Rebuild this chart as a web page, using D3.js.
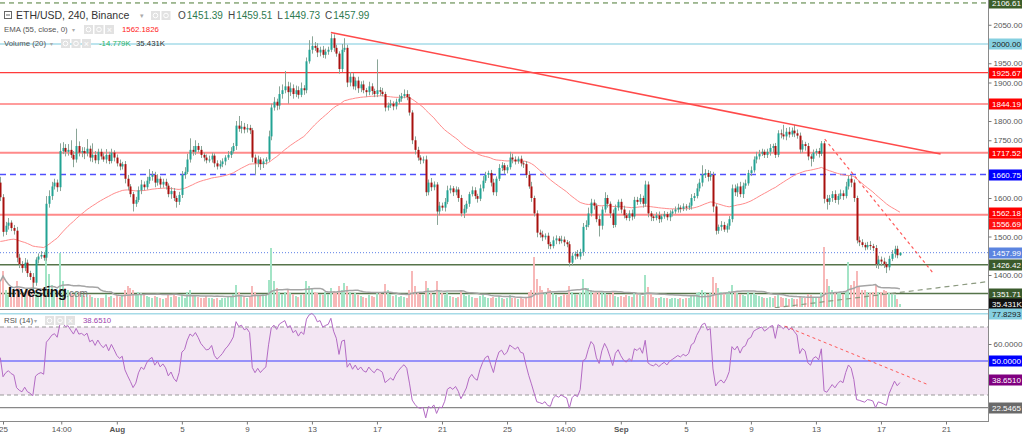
<!DOCTYPE html>
<meta charset="utf-8">
<style>
body { margin: 0; background: #fff; }
svg { display: block; font-family: "Liberation Sans", Arial, sans-serif; }
</style>
<body>
<script src="https://d3js.org/d3.v7.min.js"></script>
<script>

// ETH/USD 4h candles, first candle Jul 24 2022 20:00 UTC, open = previous close
var firstCandle = Date.UTC(2022, 6, 24, 20);
var firstOpen = 1640;

var closes = [
  1602,
  1512, 1528, 1536, 1522, 1515, 1445,
  1428, 1418, 1432, 1405, 1395, 1380,
  1440, 1448, 1452, 1445, 1585, 1605,
  1630, 1640, 1628, 1722, 1730, 1720,
  1725, 1712, 1700, 1735, 1718, 1722,
  1716, 1728, 1705, 1712, 1698, 1720,
  1708, 1700, 1712, 1696, 1718, 1705,
  1690, 1682, 1688, 1650, 1630, 1610,
  1585, 1595, 1620, 1635, 1628, 1645,
  1655, 1660, 1640, 1650, 1635, 1642,
  1632, 1610, 1618, 1600, 1590, 1608,
  1660, 1668, 1700, 1725, 1720, 1735,
  1725, 1712, 1705, 1698, 1700, 1710,
  1690, 1682, 1688, 1695, 1705, 1712,
  1722, 1735, 1788, 1780, 1785, 1778,
  1782, 1776, 1705, 1690, 1700, 1688,
  1695, 1700, 1760, 1835, 1850, 1840,
  1870, 1880, 1890, 1875, 1885, 1870,
  1880, 1868, 1885, 1880, 1955, 1985,
  1995, 1990, 1978, 1985, 1972, 1980,
  1985, 2015, 1990, 1975, 1935, 1985,
  1990, 1900, 1915, 1890, 1905, 1885,
  1895, 1880, 1875, 1890, 1878, 1870,
  1880, 1876, 1870, 1835, 1840, 1845,
  1838, 1850, 1858, 1865, 1870, 1862,
  1822, 1750, 1725, 1705, 1698, 1700,
  1615, 1640, 1628, 1635, 1565, 1580,
  1575, 1590, 1620, 1625, 1615, 1622,
  1600, 1560, 1572, 1585, 1610, 1620,
  1605, 1598, 1625, 1645, 1660, 1665,
  1640, 1615, 1650, 1678, 1685, 1672,
  1680, 1705, 1700, 1695, 1702, 1690,
  1688, 1660, 1630, 1600, 1560, 1510,
  1505, 1498, 1502, 1480, 1475, 1490,
  1495, 1488, 1492, 1485, 1480, 1432,
  1450, 1455, 1448, 1460, 1525, 1530,
  1560, 1588, 1580, 1545, 1528, 1570,
  1600, 1585, 1560, 1530, 1575, 1590,
  1570, 1555, 1548, 1560, 1552, 1595,
  1590, 1600, 1585, 1635, 1560, 1552,
  1548, 1555, 1545, 1552, 1558, 1550,
  1560, 1565, 1570, 1575, 1572, 1578,
  1575, 1580, 1600, 1605, 1625, 1640,
  1660, 1665, 1655, 1660, 1578, 1515,
  1525, 1530, 1518, 1528, 1545, 1625,
  1615, 1630, 1610, 1632, 1638, 1665,
  1672, 1700, 1708, 1715, 1720, 1712,
  1720, 1730, 1735, 1712, 1768, 1765,
  1760, 1772, 1765, 1775, 1768, 1762,
  1726, 1740, 1735, 1708, 1702, 1718,
  1722, 1715, 1742, 1598, 1590, 1600,
  1610, 1595, 1605, 1612, 1605, 1630,
  1650, 1640, 1600, 1490, 1485, 1478,
  1472, 1478, 1475, 1470, 1428, 1440,
  1435, 1428, 1420, 1442, 1455, 1468,
  1451.39, 1457.99
];

// wick length above / below the body, in price units
var wickUp = [
  15,
  8, 10, 12, 6, 8, 10,
  10, 8, 12, 8, 6, 10,
  6, 8, 10, 8, 20, 15,
  12, 10, 8, 20, 15, 10,
  15, 25, 10, 45, 12, 10,
  10, 25, 8, 30, 10, 8,
  8, 10, 15, 8, 10, 6,
  8, 10, 6, 8, 10, 6,
  6, 8, 10, 12, 8, 10,
  20, 10, 8, 12, 6, 8,
  8, 6, 10, 8, 6, 8,
  10, 12, 15, 30, 10, 15,
  8, 10, 6, 8, 10, 8,
  6, 8, 10, 8, 6, 10,
  10, 8, 12, 25, 15, 10,
  10, 8, 6, 8, 10, 6,
  8, 6, 15, 10, 12, 8,
  20, 15, 40, 12, 15, 10,
  12, 10, 15, 8, 10, 25,
  25, 10, 12, 8, 10, 8,
  8, 12, 10, 8, 6, 15,
  25, 8, 12, 10, 8, 10,
  8, 10, 6, 12, 8, 6,
  80, 8, 10, 6, 8, 10,
  6, 8, 10, 8, 12, 10,
  8, 6, 10, 8, 6, 8,
  10, 8, 12, 8, 6, 10,
  8, 10, 12, 8, 6, 8,
  6, 8, 10, 8, 6, 10,
  8, 6, 10, 12, 8, 6,
  8, 10, 6, 10, 8, 6,
  6, 15, 10, 8, 6, 8,
  6, 8, 10, 12, 6, 8,
  8, 10, 6, 8, 6, 10,
  8, 6, 10, 8, 6, 8,
  8, 6, 10, 8, 10, 12,
  15, 10, 8, 6, 10, 8,
  15, 8, 6, 10, 8, 6,
  8, 10, 6, 8, 10, 8,
  8, 10, 6, 10, 8, 6,
  6, 8, 10, 6, 8, 6,
  8, 6, 8, 10, 6, 8,
  6, 8, 10, 8, 12, 10,
  25, 10, 8, 10, 8, 6,
  6, 10, 8, 6, 8, 10,
  10, 8, 12, 8, 10, 8,
  10, 8, 12, 10, 8, 6,
  8, 10, 6, 8, 8, 10,
  25, 10, 12, 8, 15, 10,
  8, 10, 6, 8, 6, 8,
  6, 8, 6, 6, 10, 8,
  8, 10, 6, 10, 8, 12,
  8, 10, 8, 6, 10, 8,
  6, 8, 10, 6, 8, 10,
  8, 10, 6, 8, 10, 8,
  8, 1.52
];

var wickDn = [
  10,
  12, 8, 10, 8, 10, 12,
  10, 12, 8, 10, 8, 19,
  8, 10, 6, 8, 8, 10,
  10, 8, 12, 10, 8, 12,
  10, 8, 20, 8, 10, 12,
  15, 8, 10, 12, 8, 10,
  8, 6, 10, 8, 6, 10,
  8, 10, 8, 12, 10, 8,
  20, 8, 6, 10, 8, 6,
  8, 10, 12, 8, 10, 8,
  10, 8, 12, 8, 15, 8,
  8, 10, 6, 8, 10, 8,
  6, 8, 10, 8, 6, 8,
  10, 8, 6, 8, 10, 6,
  8, 6, 10, 8, 12, 10,
  8, 10, 12, 30, 10, 15,
  10, 8, 6, 10, 8, 12,
  10, 12, 8, 30, 10, 12,
  8, 10, 6, 12, 8, 6,
  10, 8, 12, 10, 8, 10,
  8, 6, 10, 8, 12, 8,
  6, 12, 10, 8, 10, 12,
  10, 8, 12, 8, 10, 8,
  8, 10, 6, 10, 8, 6,
  10, 8, 6, 8, 6, 8,
  8, 10, 12, 8, 10, 8,
  10, 8, 10, 8, 35, 10,
  8, 10, 6, 8, 10, 8,
  10, 8, 12, 10, 8, 6,
  8, 10, 6, 8, 6, 8,
  10, 8, 10, 6, 8, 10,
  8, 6, 10, 8, 6, 8,
  10, 8, 6, 10, 8, 12,
  8, 10, 6, 12, 8, 6,
  10, 8, 6, 10, 8, 10,
  8, 10, 6, 8, 10, 8,
  6, 8, 10, 8, 28, 10,
  8, 10, 12, 8, 6, 8,
  10, 8, 6, 8, 10, 6,
  8, 6, 10, 8, 10, 12,
  8, 6, 10, 8, 6, 8,
  10, 8, 6, 8, 10, 6,
  8, 6, 10, 8, 6, 8,
  10, 8, 12, 10, 15, 10,
  8, 10, 6, 8, 10, 8,
  10, 12, 8, 10, 8, 6,
  8, 6, 10, 8, 6, 8,
  8, 10, 12, 8, 6, 10,
  8, 10, 8, 6, 10, 8,
  10, 8, 12, 10, 20, 8,
  8, 10, 6, 12, 20, 8,
  10, 8, 12, 8, 10, 6,
  8, 12, 10, 8, 10, 6,
  8, 6, 10, 8, 10, 12,
  12, 10, 15, 8, 6, 10,
  8, 1.66
];

// volume, thousands
var volumes = [
  300,
  420, 200, 140, 120, 170, 300,
  220, 180, 160, 210, 190, 280,
  170, 150, 140, 160, 660, 380,
  260, 200, 180, 630, 300, 220,
  200, 160, 150, 180, 170, 140,
  130, 120, 140, 120, 110, 100,
  110, 100, 150, 120, 130, 110,
  140, 120, 130, 200, 250, 220,
  200, 150, 180, 160, 140, 130,
  120, 110, 130, 120, 100, 90,
  110, 140, 120, 150, 130, 120,
  150, 110, 180, 200, 140, 130,
  120, 110, 100, 130, 110, 100,
  90, 100, 80, 110, 100, 120,
  130, 150, 260, 180, 140, 120,
  110, 120, 240, 180, 140, 130,
  150, 140, 320, 690, 300, 220,
  180, 150, 170, 200, 160, 150,
  130, 120, 140, 150, 300, 250,
  220, 180, 160, 150, 140, 170,
  150, 220, 190, 170, 240, 200,
  280, 240, 170, 150, 160, 140,
  130, 120, 110, 140, 130, 120,
  180, 160, 150, 270, 200, 150,
  130, 140, 120, 130, 120, 110,
  200, 420, 250, 160, 150, 140,
  300, 220, 160, 150, 300, 200,
  160, 140, 170, 130, 120, 110,
  120, 200, 150, 130, 140, 120,
  110, 100, 130, 150, 120, 110,
  100, 120, 110, 130, 100, 90,
  100, 140, 110, 100, 90, 100,
  90, 120, 170, 200, 580, 330,
  250, 200, 180, 220, 200, 160,
  140, 120, 130, 150, 140, 250,
  180, 150, 140, 160, 330, 220,
  220, 200, 160, 190, 170, 180,
  160, 140, 150, 170, 130, 120,
  130, 120, 140, 130, 120, 170,
  150, 140, 130, 370, 230, 150,
  120, 110, 100, 120, 110, 100,
  90, 100, 110, 90, 100, 95,
  100, 110, 140, 130, 160, 180,
  200, 170, 150, 160, 350, 280,
  220, 180, 160, 170, 190, 260,
  180, 160, 150, 140, 130, 170,
  150, 160, 140, 130, 120, 110,
  110, 120, 100, 130, 150, 120,
  110, 100, 90, 100, 95, 90,
  120, 110, 100, 150, 140, 110,
  100, 120, 160, 700, 330, 250,
  200, 180, 160, 170, 150, 180,
  520, 260, 300, 420, 240, 200,
  200, 180, 160, 170, 260, 180,
  170, 200, 190, 160, 150, 140,
  90, 35.431
];

var emaStart = 1483;           // EMA(55) at the left edge of the chart
var rsiGainStart = 14, rsiLossStart = 10;

var tickTimes = ["2022-07-25T00:00Z", "2022-07-28T14:00Z", "2022-08-01T00:00Z", "2022-08-05T00:00Z",
  "2022-08-09T00:00Z", "2022-08-13T00:00Z", "2022-08-17T00:00Z", "2022-08-21T00:00Z",
  "2022-08-25T00:00Z", "2022-08-28T14:00Z", "2022-09-01T00:00Z", "2022-09-05T00:00Z",
  "2022-09-09T00:00Z", "2022-09-13T00:00Z", "2022-09-17T00:00Z", "2022-09-21T00:00Z"];
var tickLabels = ["25", "14:00", "Aug", "5", "9", "13", "17", "21", "25", "14:00", "Sep", "5", "9", "13", "17", "21"];

// horizontal price levels drawn on the chart
var levelPrices = [2106.61, 2000.00, 1925.67, 1844.19, 1717.52, 1660.75, 1556.69, 1457.99, 1426.42, 1351.71];
var levelKinds  = ["topDash", "cyan", "red", "red", "pink", "blueDash", "pink", "last", "green", "green"];

// price-axis labels (value, text)
var priceTags = [2106.61, 2000.00, 1925.67, 1844.19, 1717.52, 1660.75, 1562.18, 1556.69, 1457.99, 1426.42, 1351.71];
var priceTagText = ["2106.61", "2000.00", "1925.67", "1844.19", "1717.52", "1660.75", "1562.18", "1556.69", "1457.99", "1426.42", "1351.71"];
var priceTagKinds = ["topDash", "cyan", "red", "red", "red", "blueDash", "red", "red2", "last", "green", "green"];

var rsiLevels = [77.8293, 22.5465];
var rsiTags = [77.8293, 50, 38.651, 22.5465];
var rsiTagText = ["77.8293", "50.0000", "38.6510", "22.5465"];
var rsiTagKinds = ["cyan", "blue", "purple", "gray"];

// legend values
var ohlcLabels = ["O", "H", "L", "C"];
var ohlcText = ["1451.39", "1459.51", "1449.73", "1457.99"];

// trend lines [time, value]
var trendMain = [["2022-08-14T04:00Z", 2030], ["2022-09-20T16:00Z", 1714]];
var trendDown = [["2022-09-13T13:00Z", 1753], ["2022-09-20T05:00Z", 1405]];
var trendRsi  = [["2022-09-11T02:00Z", 70.5], ["2022-09-19T22:00Z", 36]];
var trendGray = [["2022-09-09T22:00Z", 1312], ["2022-09-24T14:00Z", 1388]];

var styles = {
  topDash:  {line: "#4c7a34", dash: "5,4", w: 1, bg: "#3d5e2a", fg: "#fff"},
  cyan:     {line: "#a6dbe8", dash: null, w: 1.5, bg: "#85cfe0", fg: "#1a1a1a"},
  red:      {line: "#ff3b3b", dash: null, w: 1.2, bg: "#ff0000", fg: "#fff"},
  red2:     {line: "#ff3b3b", dash: null, w: 1.2, bg: "#ff1010", fg: "#fff"},
  pink:     {line: "#ff8a8a", dash: null, w: 2, bg: "#ff0000", fg: "#fff"},
  blueDash: {line: "#5050ff", dash: "6,4", w: 1.5, bg: "#0000ff", fg: "#fff"},
  last:     {line: "#5c7fe6", dash: "1,2", w: 1, bg: "#5b84e0", fg: "#fff"},
  green:    {line: "#56744a", dash: null, w: 1.5, bg: "#3a5a2c", fg: "#fff"},
  blue:     {bg: "#0000ff", fg: "#fff"},
  purple:   {bg: "#800080", fg: "#fff"},
  gray:     {bg: "#6a6a6a", fg: "#fff"}
};

var W = 1024, H = 434, axisX = 988;
var tagFont = 8;

var svg = d3.select("body").append("svg")
    .attr("width", W)
    .attr("height", H);

var x = d3.scaleUtc()
    .domain([new Date("2022-07-25T00:00Z"), new Date("2022-09-21T00:00Z")])
    .range([3, 946]);
var y = d3.scaleLinear().domain([1600, 2000]).range([198, 44]);
var yVol = d3.scaleLinear().domain([0, 700]).range([307, 247]);
var yRsi = d3.scaleLinear().domain([30, 70]).range([395, 327]);

// build candles
var candles = closes.map(function(c, i) {
  var o = i ? closes[i - 1] : firstOpen;
  return {
    t: new Date(firstCandle + i * 4 * 3600 * 1000),
    o: o, c: c,
    h: Math.max(o, c) + wickUp[i],
    l: Math.min(o, c) - wickDn[i],
    v: volumes[i]
  };
});

// EMA 55
var k = 2 / 56, e = emaStart;
candles.forEach(function(d) { e = e + k * (d.c - e); d.ema = e; });

// RSI 14 (Wilder)
var ag = rsiGainStart, al = rsiLossStart;
candles.forEach(function(d) {
  var ch = d.c - d.o;
  ag = (ag * 13 + Math.max(ch, 0)) / 14;
  al = (al * 13 + Math.max(-ch, 0)) / 14;
  d.rsi = 100 - 100 / (1 + ag / al);
});

// volume SMA 20
candles.forEach(function(d, i) {
  var s = candles.slice(Math.max(0, i - 19), i + 1);
  d.vma = d3.mean(s, function(q) { return q.v; });
});

svg.append("defs").append("clipPath").attr("id", "mainClip")
  .append("rect").attr("x", 0).attr("y", 0).attr("width", axisX).attr("height", 308);
svg.select("defs").append("clipPath").attr("id", "rsiClip")
  .append("rect").attr("x", 0).attr("y", 310).attr("width", axisX).attr("height", 111);

var main = svg.append("g").attr("clip-path", "url(#mainClip)");
var rsiG = svg.append("g").attr("clip-path", "url(#rsiClip)");

// ---- RSI pane
rsiG.append("rect")
  .attr("x", 0).attr("width", axisX)
  .attr("y", yRsi(70)).attr("height", yRsi(30) - yRsi(70))
  .attr("fill", "#f3e6f3");
[70, 30].forEach(function(v) {
  rsiG.append("line").attr("x1", 0).attr("x2", axisX)
    .attr("y1", yRsi(v)).attr("y2", yRsi(v))
    .attr("stroke", "#999").attr("stroke-dasharray", "4,3");
});
rsiG.append("line").attr("x1", 0).attr("x2", axisX)
  .attr("y1", yRsi(50)).attr("y2", yRsi(50))
  .attr("stroke", "#3c3cff").attr("stroke-width", 1.2);
rsiG.append("line").attr("x1", 0).attr("x2", axisX)
  .attr("y1", yRsi(rsiLevels[0])).attr("y2", yRsi(rsiLevels[0]))
  .attr("stroke", "#a6dbe8").attr("stroke-width", 1.5);
rsiG.append("line").attr("x1", 0).attr("x2", axisX)
  .attr("y1", yRsi(rsiLevels[1])).attr("y2", yRsi(rsiLevels[1]))
  .attr("stroke", "#888").attr("stroke-width", 1.2);

rsiG.append("path")
  .datum(candles)
  .attr("fill", "none")
  .attr("stroke", "#b36bc4")
  .attr("stroke-width", 1)
  .attr("d", d3.line().x(function(d) { return x(d.t); }).y(function(d) { return yRsi(d.rsi); }));

rsiG.append("line")
  .attr("x1", x(new Date(trendRsi[0][0]))).attr("y1", yRsi(trendRsi[0][1]))
  .attr("x2", x(new Date(trendRsi[1][0]))).attr("y2", yRsi(trendRsi[1][1]))
  .attr("stroke", "#ff5a5a").attr("stroke-dasharray", "3,3").attr("stroke-width", 1);

// ---- main pane: horizontal levels
levelPrices.forEach(function(p, i) {
  var s = styles[levelKinds[i]];
  main.append("line")
    .attr("x1", 0).attr("x2", axisX)
    .attr("y1", y(p)).attr("y2", y(p))
    .attr("stroke", s.line)
    .attr("stroke-width", s.w)
    .attr("stroke-dasharray", s.dash);
});

// volume bars
main.selectAll(".vol")
    .data(candles)
  .enter().append("rect")
    .attr("class", "vol")
    .attr("x", function(d) { return x(d.t) - 1; })
    .attr("width", 2)
    .attr("y", function(d) { return yVol(d.v); })
    .attr("height", function(d) { return yVol(0) - yVol(d.v); })
    .attr("fill", function(d) { return d.c >= d.o ? "#a3e4c6" : "#f7b8b8"; })
    .attr("shape-rendering", "crispEdges");

main.append("path")
  .datum(candles)
  .attr("fill", "none")
  .attr("stroke", "#a5a5a5")
  .attr("stroke-width", 1.5)
  .attr("d", d3.line().x(function(d) { return x(d.t); }).y(function(d) { return yVol(d.vma); }));

// EMA
main.append("path")
  .datum(candles)
  .attr("fill", "none")
  .attr("stroke", "#ff8c8c")
  .attr("stroke-width", 1)
  .attr("d", d3.line().x(function(d) { return x(d.t); }).y(function(d) { return y(d.ema); }));

// candles
main.selectAll(".wick")
    .data(candles)
  .enter().append("line")
    .attr("class", "wick")
    .attr("x1", function(d) { return Math.round(x(d.t)) + 0.5; })
    .attr("x2", function(d) { return Math.round(x(d.t)) + 0.5; })
    .attr("y1", function(d) { return y(d.h); })
    .attr("y2", function(d) { return y(d.l); })
    .attr("stroke", "#8aa597");

main.selectAll(".body")
    .data(candles)
  .enter().append("rect")
    .attr("class", "body")
    .attr("x", function(d) { return Math.round(x(d.t)) - 0.5; })
    .attr("width", 2)
    .attr("y", function(d) { return y(Math.max(d.o, d.c)); })
    .attr("height", function(d) { return Math.max(1, Math.abs(y(d.o) - y(d.c))); })
    .attr("fill", function(d) { return d.c >= d.o ? "#22a394" : "#a8100e"; });

// trend lines
function tline(g, pts, color, dash, w) {
  g.append("line")
    .attr("x1", x(new Date(pts[0][0]))).attr("y1", y(pts[0][1]))
    .attr("x2", x(new Date(pts[1][0]))).attr("y2", y(pts[1][1]))
    .attr("stroke", color).attr("stroke-width", w)
    .attr("stroke-dasharray", dash);
}
tline(main, trendMain, "#ff4a4a", null, 1.5);
tline(main, trendDown, "#ff5a5a", "3,3", 1.2);
tline(main, trendGray, "#8c9a80", "5,4", 1.2);

// Investing.com mark
var logo = svg.append("text").attr("x", 8).attr("y", 297);
logo.append("tspan").attr("font-size", 14.5).attr("font-weight", "bold").attr("fill", "#111")
  .attr("letter-spacing", "-0.6").text("Investing");
logo.append("tspan").attr("font-size", 10).attr("fill", "#777").text(".com");

// ---- frame lines
svg.append("line").attr("x1", 0).attr("x2", axisX).attr("y1", 309.5).attr("y2", 309.5).attr("stroke", "#8a8a8a");
svg.append("line").attr("x1", 0).attr("x2", axisX).attr("y1", 421.5).attr("y2", 421.5).attr("stroke", "#8a8a8a");
svg.append("line").attr("x1", axisX + 0.5).attr("x2", axisX + 0.5).attr("y1", 0).attr("y2", 422).attr("stroke", "#8a8a8a");

// tick values hidden behind a tag are left out, as the platform does
var tagY = [];
var lastY = -100;
priceTags.forEach(function(p) {
  var yy = Math.max(y(p), lastY + 11);
  lastY = yy;
  tagY.push(yy);
});
function clearOfTags(yy, list) {
  return list.every(function(t) { return Math.abs(t - yy) >= 9; });
}

// price axis
var yAxis = svg.append("g")
    .attr("transform", "translate(" + (axisX + 0.5) + ",0)")
    .call(d3.axisRight(y)
      .tickValues(d3.range(1350, 2101, 50).filter(function(v) { return clearOfTags(y(v), tagY); }))
      .tickSize(3).tickPadding(2)
      .tickFormat(d3.format(".2f")));
yAxis.select(".domain").remove();
yAxis.selectAll("line").attr("stroke", "#777");
yAxis.selectAll("text").attr("fill", "#555").attr("font-size", tagFont).attr("font-family", "Liberation Sans, Arial, sans-serif");

var rsiTagY = rsiTags.map(function(v) { return yRsi(v); });
var rAxis = svg.append("g")
    .attr("transform", "translate(" + (axisX + 0.5) + ",0)")
    .call(d3.axisRight(yRsi)
      .tickValues([20, 40, 60].filter(function(v) { return clearOfTags(yRsi(v), rsiTagY); }))
      .tickSize(3).tickPadding(2)
      .tickFormat(d3.format(".4f")));
rAxis.select(".domain").remove();
rAxis.selectAll("line").attr("stroke", "#777");
rAxis.selectAll("text").attr("fill", "#555").attr("font-size", tagFont).attr("font-family", "Liberation Sans, Arial, sans-serif");

// time axis
var xAxis = svg.append("g")
    .attr("transform", "translate(0,421.5)")
    .call(d3.axisBottom(x)
      .tickValues(tickTimes.map(function(t) { return new Date(t); }))
      .tickFormat(function(d, i) { return tickLabels[i]; })
      .tickSize(3).tickPadding(2));
xAxis.select(".domain").remove();
xAxis.selectAll("line").attr("stroke", "#777");
xAxis.selectAll("text").attr("fill", "#555").attr("font-size", tagFont)
  .attr("font-family", "Liberation Sans, Arial, sans-serif")
  .attr("font-weight", function(d, i) { return (tickLabels[i] === "Aug" || tickLabels[i] === "Sep") ? "bold" : null; });

// axis tags
function tag(yy, text, kind) {
  var s = styles[kind];
  var g = svg.append("g").attr("transform", "translate(" + (axisX + 1) + "," + Math.round(yy) + ")");
  g.append("rect").attr("x", 0).attr("y", -5.5).attr("width", 33).attr("height", 11).attr("fill", s.bg);
  g.append("text").attr("x", 3).attr("y", 3).attr("font-size", tagFont).attr("fill", s.fg).text(text);
}
priceTags.forEach(function(p, i) { tag(tagY[i], priceTagText[i], priceTagKinds[i]); });
var volLast = candles[candles.length - 1].v;
svg.append("g").attr("transform", "translate(" + (axisX + 1) + "," + Math.max(Math.round(yVol(volLast)), Math.round(lastY + 10)) + ")")
  .call(function(g) {
    g.append("rect").attr("y", -5.5).attr("width", 33).attr("height", 11).attr("fill", "#111");
    g.append("text").attr("x", 3).attr("y", 3).attr("font-size", tagFont).attr("fill", "#fff")
      .text(d3.format(".3f")(volLast) + "K");
  });
rsiTags.forEach(function(v, i) { tag(yRsi(v), rsiTagText[i], rsiTagKinds[i]); });

// ---- legends
function icons(g, x0, yy, n) {
  d3.range(n).forEach(function(j) {
    var cx = x0 + j * 10.5;
    g.append("rect").attr("x", cx).attr("y", yy - 8).attr("width", 9).attr("height", 9)
      .attr("fill", "#e2e2e2");
    if (j === 2) {
      g.append("text").attr("x", cx + 4.5).attr("y", yy).attr("text-anchor", "middle")
        .attr("font-size", 9).attr("fill", "#fff").text("\u00d7");
    } else {
      g.append("circle").attr("cx", cx + 4.5).attr("cy", yy - 3.5).attr("r", 2.3)
        .attr("fill", "none").attr("stroke", "#fff").attr("stroke-width", 1);
    }
  });
}
var leg = svg.append("g");
leg.append("rect").attr("x", 4.5).attr("y", 11.5).attr("width", 7).attr("height", 7)
  .attr("fill", "none").attr("stroke", "#666");
leg.append("line").attr("x1", 6).attr("x2", 10).attr("y1", 15).attr("y2", 15).attr("stroke", "#666");
leg.append("text").attr("x", 16).attr("y", 19).attr("font-size", 10.5).attr("fill", "#333").text("ETH/USD, 240, Binance");
leg.append("text").attr("x", 140).attr("y", 18).attr("font-size", 7).attr("fill", "#aaa").text("\u25BE");
icons(leg, 151, 19, 2);
var ohlc = leg.append("text").attr("x", 178).attr("y", 19).attr("font-size", 10);
ohlcLabels.forEach(function(l, i) {
  ohlc.append("tspan").attr("fill", "#444").attr("dx", i ? 5 : 0).text(l);
  ohlc.append("tspan").attr("fill", "#2e7a50").attr("dx", 1).text(ohlcText[i]);
});

leg.append("text").attr("x", 4).attr("y", 32).attr("font-size", 7.8).attr("fill", "#555").text("EMA (55, close, 0)");
leg.append("text").attr("x", 72).attr("y", 32).attr("font-size", 6).attr("fill", "#aaa").text("\u25BE");
icons(leg, 84, 33, 3);
leg.append("text").attr("x", 122).attr("y", 32).attr("font-size", 7.8).attr("fill", "#ff1a1a").text("1562.1826");

leg.append("text").attr("x", 4).attr("y", 46).attr("font-size", 7.8).attr("fill", "#555").text("Volume (20)");
leg.append("text").attr("x", 50).attr("y", 46).attr("font-size", 6).attr("fill", "#aaa").text("\u25BE");
icons(leg, 61, 47, 3);
leg.append("text").attr("x", 99).attr("y", 46).attr("font-size", 7.8).attr("fill", "#27b36a").text("-14.779K");
leg.append("text").attr("x", 136).attr("y", 46).attr("font-size", 7.8).attr("fill", "#333").text("35.431K");

leg.append("text").attr("x", 4).attr("y", 323).attr("font-size", 7.8).attr("fill", "#555").text("RSI (14)");
leg.append("text").attr("x", 34).attr("y", 323).attr("font-size", 6).attr("fill", "#aaa").text("\u25BE");
icons(leg, 45, 324, 3);
leg.append("text").attr("x", 83).attr("y", 323).attr("font-size", 7.8).attr("fill", "#9c3fae").text("38.6510");

</script>
</body>
